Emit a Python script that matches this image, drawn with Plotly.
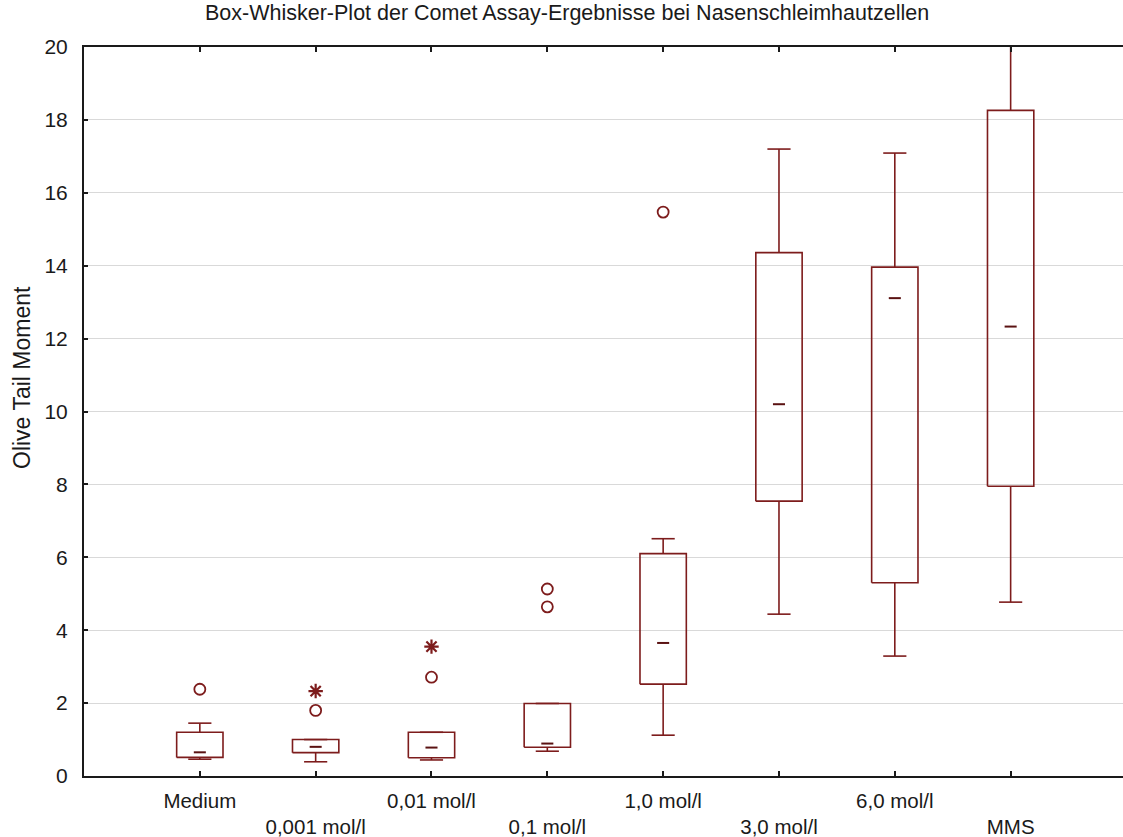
import numpy as np
import plotly.graph_objects as go

# ---------------- data ----------------
categories = ["Medium", "0,001 mol/l", "0,01 mol/l", "0,1 mol/l",
              "1,0 mol/l", "3,0 mol/l", "6,0 mol/l", "MMS"]
q1_vals = [0.51, 0.64, 0.50, 0.79, 2.52, 7.54, 5.30, 7.95]
median_vals = [0.65, 0.80, 0.78, 0.89, 3.65, 10.20, 13.11, 12.33]
q3_vals = [1.20, 1.00, 1.20, 1.99, 6.10, 14.36, 13.96, 18.26]
lower_whisker = [0.46, 0.39, 0.44, 0.68, 1.12, 4.44, 3.29, 4.77]
upper_whisker = [1.45, 1.00, 1.20, 1.99, 6.51, 17.20, 17.09, 20.60]

# outliers (circles) and extremes (asterisks): (category index, value)
outlier_cat = [0, 1, 2, 3, 3, 4]
outlier_val = [2.38, 1.80, 2.71, 5.13, 4.64, 15.47]
extreme_cat = [1, 2]
extreme_val = [2.33, 3.55]

y_ticks = [0, 2, 4, 6, 8, 10, 12, 14, 16, 18, 20]

# ---------------- style ----------------
RED = "#7d1c1c"
BOX_HW = 0.20   # half width of box (category units)
CAP_HW = 0.10   # half width of whisker caps
MED_HW = 0.052  # half width of median dash
FONT = "Liberation Sans, Arial, sans-serif"

W, H = 1123, 837
L, R, T, B = 84, 0, 47, 61
PW, PH = W - L - R, H - T - B

def px_to_paper(px, py):
    """page pixel -> paper coordinates"""
    return (px - L) / PW, (H - B - py) / PH

pos = np.arange(len(categories), dtype=float)
q1 = np.array(q1_vals); q3 = np.array(q3_vals); med = np.array(median_vals)
lo = np.array(lower_whisker); hi = np.array(upper_whisker)

def segs(xs_list, ys_list):
    X, Y = [], []
    for xs, ys in zip(xs_list, ys_list):
        X += list(xs) + [None]
        Y += list(ys) + [None]
    return X, Y

# boxes
bx, by = segs(
    [[p - BOX_HW, p + BOX_HW, p + BOX_HW, p - BOX_HW, p - BOX_HW] for p in pos],
    [[a, a, b, b, a] for a, b in zip(q1, q3)],
)
# whiskers (vertical stems + caps)
wx_list, wy_list = [], []
for p, a, b, l, h in zip(pos, q1, q3, lo, hi):
    wx_list += [[p, p], [p, p], [p - CAP_HW, p + CAP_HW], [p - CAP_HW, p + CAP_HW]]
    wy_list += [[b, h], [a, l], [h, h], [l, l]]
wx, wy = segs(wx_list, wy_list)
# median dashes
mx, my = segs([[p - MED_HW, p + MED_HW] for p in pos], [[m, m] for m in med])

fig = go.Figure()
fig.add_trace(go.Scatter(x=wx, y=wy, mode="lines",
                         line=dict(color=RED, width=1.6), hoverinfo="skip"))
fig.add_trace(go.Scatter(x=bx, y=by, mode="lines",
                         line=dict(color=RED, width=1.6), hoverinfo="skip"))
fig.add_trace(go.Scatter(x=mx, y=my, mode="lines",
                         line=dict(color="#5a1212", width=2), hoverinfo="skip"))
fig.add_trace(go.Scatter(x=pos[outlier_cat], y=outlier_val, mode="markers",
                         marker=dict(symbol="circle-open", size=11, color=RED,
                                     line=dict(width=1.8, color=RED))))
fig.add_trace(go.Scatter(x=pos[extreme_cat], y=extreme_val, mode="markers",
                         marker=dict(symbol="asterisk-open", size=12, color=RED,
                                     line=dict(width=2.2, color=RED))))

ticktext = [c if i % 2 == 0 else "<br>" + c for i, c in enumerate(categories)]

ytx, yty = px_to_paper(22, 378)
ttx, tty = px_to_paper(567, 13)

fig.update_layout(
    width=W, height=H,
    margin=dict(l=L, r=R, t=T, b=B, autoexpand=False),
    paper_bgcolor="white", plot_bgcolor="white",
    showlegend=False,
    font=dict(family=FONT, size=21, color="#1a1a1a"),
    xaxis=dict(range=[-1, 7.97], tickmode="array", tickvals=pos, ticktext=ticktext,
               showgrid=False, zeroline=False, automargin=False,
               showline=True, linecolor="#1a1a1a", linewidth=2, mirror="ticks",
               ticks="inside", ticklen=5, tickwidth=1.5, tickcolor="#1a1a1a",
               tickfont=dict(size=20.5), ticklabelstandoff=5),
    yaxis=dict(range=[0, 20], tickmode="array", tickvals=y_ticks,
               showgrid=True, gridcolor="#d9d9d9", gridwidth=1.2, zeroline=False,
               automargin=False,
               showline=True, linecolor="#1a1a1a", linewidth=2,
               ticks="inside", ticklen=4, tickwidth=1.5, tickcolor="#1a1a1a",
               tickfont=dict(size=21), ticklabelstandoff=10),
    annotations=[
        dict(text="Olive Tail Moment", textangle=-90,
             xref="paper", yref="paper", x=ytx, y=yty,
             xanchor="center", yanchor="middle", showarrow=False,
             font=dict(family=FONT, size=23, color="#1a1a1a")),
        dict(text="Box-Whisker-Plot der Comet Assay-Ergebnisse bei Nasenschleimhautzellen",
             xref="paper", yref="paper", x=ttx, y=tty,
             xanchor="center", yanchor="middle", showarrow=False,
             font=dict(family=FONT, size=21.5, color="#1a1a1a")),
    ],
)

fig.write_html(
    "out.html",
    config={"displayModeBar": False},
    post_script="document.body.style.margin='0';document.body.style.overflow='hidden';",
)
